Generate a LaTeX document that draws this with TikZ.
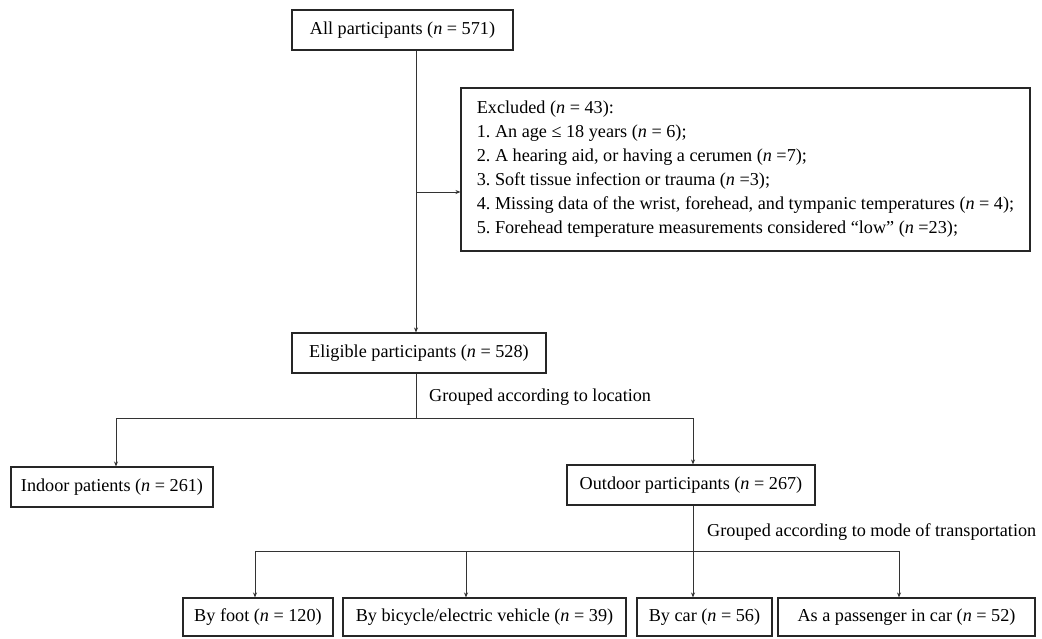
\documentclass[tikz,border=0pt]{standalone}
\usepackage{fontspec}
\setmainfont{Liberation Serif}
\usetikzlibrary{arrows.meta}
\tikzset{
  box/.style={draw=black!85, line width=1.1pt, inner sep=0pt, align=center,
    font=\fontsize{18.2}{24}\selectfont\frenchspacing},
  lbl/.style={inner sep=0pt, font=\fontsize{18.2}{24}\selectfont},
  conn/.style={draw=black!80, line width=0.8pt},
  arr/.style={conn, -{Stealth[length=5pt,width=4pt]}}
}
\begin{document}
\begin{tikzpicture}[x=1pt,y=-1pt]
\useasboundingbox (0,0) rectangle (1042,638);
% boxes
\node[box, minimum width=221pt, minimum height=40pt] (all) at (402.5,30) {All participants (\textit{n} = 571)};
\node[box, minimum width=569pt, minimum height=163pt, inner xsep=8pt, align=left] (excl) at (745.5,169.5)
  {Excluded (\textit{n} = 43):\\
   1. An age ≤ 18 years (\textit{n} = 6);\\
   2. A hearing aid, or having a cerumen (\textit{n} =7);\\
   3. Soft tissue infection or trauma (\textit{n} =3);\\
   4. Missing data of the wrist, forehead, and tympanic temperatures (\textit{n} = 4);\\
   5. Forehead temperature measurements considered “low” (\textit{n} =23);};
\node[box, minimum width=254pt, minimum height=40pt] (elig) at (419,353) {Eligible participants (\textit{n} = 528)};
\node[box, minimum width=202pt, minimum height=40pt] (indoor) at (112,487) {Indoor patients (\textit{n} = 261)};
\node[box, minimum width=248pt, minimum height=40pt] (outdoor) at (691,485) {Outdoor participants (\textit{n} = 267)};
\node[box, minimum width=150pt, minimum height=38pt] (foot) at (258,617) {By foot (\textit{n} = 120)};
\node[box, minimum width=283pt, minimum height=38pt] (bike) at (484.5,617) {By bicycle/electric vehicle (\textit{n} = 39)};
\node[box, minimum width=135pt, minimum height=38pt] (car) at (704.5,617) {By car (\textit{n} = 56)};
\node[box, minimum width=257pt, minimum height=38pt] (pass) at (906.5,617) {As a passenger in car (\textit{n} = 52)};
% labels
\node[lbl, anchor=west] (g1) at (429,397) {Grouped according to location};
\node[lbl, anchor=west] (g2) at (707,532) {Grouped according to mode of transportation};
% helper coordinates
\coordinate (vx) at (416,0);
\coordinate (jx) at (416,192);
\coordinate (h1m) at (416,418);
\coordinate (h1L) at (116,418);
\coordinate (h1R) at (693,418);
\coordinate (h2L) at (255,551);
\coordinate (h2b) at (466,551);
\coordinate (h2c) at (693,551);
\coordinate (h2R) at (899,551);
% connectors
\draw[arr] (all.south -| vx) -- (elig.north -| vx);
\draw[arr] (jx) -- (jx -| excl.west);
\draw[conn] (elig.south -| vx) -- (h1m);
\draw[conn] (h1L) -- (h1R);
\draw[arr] (h1L) -- (h1L |- indoor.north);
\draw[arr] (h1R) -- (h1R |- outdoor.north);
\draw[conn] (outdoor.south -| h2c) -- (h2c);
\draw[conn] (h2L) -- (h2R);
\draw[arr] (h2L) -- (h2L |- foot.north);
\draw[arr] (h2b) -- (h2b |- bike.north);
\draw[arr] (h2c) -- (h2c |- car.north);
\draw[arr] (h2R) -- (h2R |- pass.north);
\end{tikzpicture}
\end{document}
